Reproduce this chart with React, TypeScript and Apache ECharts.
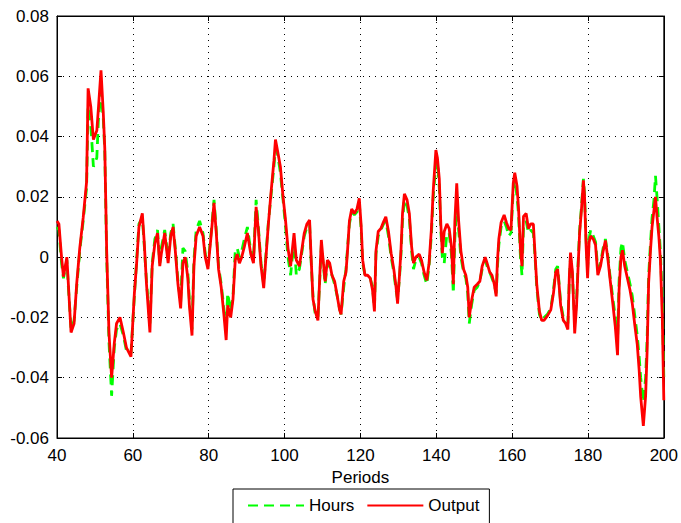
import React, { useEffect, useRef } from "react";
import * as echarts from "echarts";

const periods = [
  40.0, 40.5, 41.2, 41.7, 42.6, 43.0, 43.7, 44.5, 45.2, 46.0, 46.9, 47.8, 48.2, 48.9, 49.6, 50.5, 50.9, 51.6, 52.2, 52.6,
  53.1, 53.7, 54.4, 55.1, 55.7, 56.6, 57.5, 58.3, 59.5, 60.4, 61.0, 61.6, 62.5, 63.0, 63.6, 64.5, 65.1, 65.8, 66.5, 67.1,
  67.5, 68.4, 69.3, 70.0, 70.6, 71.2, 71.9, 72.6, 73.2, 73.8, 74.5, 74.9, 75.6, 76.1, 76.7, 77.6, 78.5, 79.1, 79.8, 80.7,
  81.4, 82.0, 82.6, 83.3, 84.0, 84.6, 85.0, 85.8, 86.4, 87.0, 87.5, 88.1, 88.7, 89.4, 90.2, 91.1, 91.8, 92.5, 93.1, 93.8,
  94.5, 95.1, 95.7, 96.4, 97.2, 97.6, 98.2, 98.9, 99.6, 100.2, 100.9, 101.6, 102.5, 103.1, 103.9, 104.5, 105.2, 105.9, 106.6, 107.1,
  107.5, 108.1, 108.8, 109.3, 109.7, 110.1, 110.7, 111.3, 111.9, 112.5, 113.2, 113.9, 114.5, 114.9, 115.6, 116.2, 116.6, 117.1, 117.7, 118.4,
  119.1, 119.7, 120.2, 120.6, 121.2, 121.9, 122.6, 123.2, 123.7, 124.1, 124.7, 125.4, 126.1, 126.7, 127.4, 128.1, 128.8, 129.4, 129.8, 130.3,
  130.7, 131.1, 131.6, 132.3, 132.9, 133.5, 134.0, 134.6, 135.5, 136.1, 136.8, 137.5, 138.1, 138.7, 139.2, 139.9, 140.3, 140.8, 141.2, 141.6,
  142.1, 142.8, 143.4, 144.0, 144.5, 144.9, 145.4, 145.9, 146.5, 147.2, 147.8, 148.3, 148.7, 149.3, 150.0, 150.8, 151.5, 152.1, 152.9, 153.4,
  154.1, 154.7, 155.3, 155.8, 156.1, 156.5, 157.1, 157.9, 158.5, 159.1, 159.7, 160.3, 160.7, 161.3, 161.7, 162.2, 162.6, 163.0, 163.7, 164.3,
  164.9, 165.6, 166.0, 166.5, 167.2, 167.8, 168.4, 169.3, 170.2, 170.9, 171.5, 172.0, 172.4, 172.8, 173.5, 174.1, 174.7, 175.1, 175.4, 175.9,
  176.5, 177.0, 177.4, 177.8, 178.3, 178.8, 179.1, 179.5, 179.9, 180.3, 180.7, 181.4, 182.0, 182.6, 183.3, 184.0, 184.6, 185.2, 185.8, 186.6,
  187.2, 187.8, 188.2, 188.7, 189.1, 189.7, 190.4, 191.1, 191.7, 192.3, 193.0, 193.5, 193.9, 194.6, 195.2, 195.6, 196.0, 196.5, 196.9, 197.4,
  197.8, 198.2, 198.7, 199.1, 199.6, 200.0,
];

const output = [
  0.012, 0.011, 0.0, -0.0065, 0.0, -0.009, -0.025, -0.022, -0.0087, 0.003, 0.013, 0.025, 0.056, 0.05, 0.039, 0.042, 0.049, 0.062, 0.048, 0.036,
  0.002, -0.025, -0.04, -0.0286, -0.022, -0.02, -0.025, -0.03, -0.033, -0.012, -0.002, 0.01, 0.0145, 0.005, -0.009, -0.025, -0.003, 0.0045, 0.008, -0.003,
  0.001, 0.008, -0.002, 0.007, 0.01, 0.002, -0.009, -0.017, -0.002, 0.0, -0.007, -0.016, -0.026, -0.003, 0.007, 0.01, 0.007, 0.0, -0.004, 0.008,
  0.018, 0.008, -0.004, -0.01, -0.019, -0.0275, -0.016, -0.02, -0.014, -0.001, 0.001, -0.002, 0.0, 0.0035, 0.008, 0.001, -0.002, 0.0167, 0.009, -0.003,
  -0.0103, 0.0, 0.0105, 0.021, 0.032, 0.039, 0.035, 0.03, 0.02, 0.013, 0.003, -0.003, 0.008, -0.001, -0.003, 0.002, 0.008, 0.011, 0.0123, -0.003,
  -0.014, -0.018, -0.021, -0.006, 0.0057, 0.0, -0.008, -0.001, -0.002, -0.006, -0.008, -0.013, -0.0175, -0.019, -0.008, -0.005, 0.002, 0.012, 0.016, 0.0145,
  0.016, 0.0195, 0.0105, -0.001, -0.006, -0.006, -0.007, -0.011, -0.018, 0.002, 0.0085, 0.0095, 0.0117, 0.0134, 0.0085, 0.0013, -0.004, -0.01, -0.0154, -0.006,
  0.0024, 0.0145, 0.021, 0.019, 0.0145, 0.0035, -0.002, 0.0, 0.001, -0.001, -0.005, -0.0077, -0.002, 0.009, 0.022, 0.0355, 0.033, 0.026, 0.011, 0.0013,
  0.0085, 0.011, 0.0095, 0.0035, -0.009, 0.0117, 0.0245, 0.012, 0.002, -0.004, -0.006, -0.01, -0.02, -0.0145, -0.01, -0.009, -0.008, -0.003, 0.0, -0.002,
  -0.005, -0.006, -0.009, -0.013, -0.002, 0.006, 0.0115, 0.014, 0.0115, 0.0095, 0.009, 0.0245, 0.028, 0.0235, 0.016, 0.0025, -0.003, 0.0135, 0.0145, 0.0095,
  0.011, 0.011, 0.002, -0.009, -0.018, -0.021, -0.021, -0.0195, -0.0175, -0.012, -0.005, -0.004, -0.0095, -0.016, -0.021, -0.022, -0.024, -0.006, 0.0015, -0.005,
  -0.0253, -0.016, -0.003, 0.008, 0.016, 0.0255, 0.02, 0.004, -0.007, 0.005, 0.007, 0.006, 0.004, -0.006, -0.003, 0.002, 0.0055, 0.0, -0.007, -0.016,
  -0.023, -0.0325, -0.011, 0.0, 0.0023, -0.003, -0.007, -0.011, -0.0155, -0.022, -0.029, -0.0375, -0.0463, -0.056, -0.046, -0.031, -0.0085, 0.0025, 0.01, 0.0155,
  0.02, 0.0135, 0.0067, -0.001, -0.02, -0.0475,
];

const hours = [
  0.01, 0.009, -0.002, -0.007, -0.001, -0.01, -0.024, -0.021, -0.01, 0.002, 0.012, 0.023, 0.05, 0.044, 0.03, 0.033, 0.045, 0.055, 0.046, 0.035,
  0.0, -0.028, -0.046, -0.03, -0.024, -0.022, -0.026, -0.031, -0.032, -0.013, -0.001, 0.011, 0.013, 0.004, -0.008, -0.022, -0.002, 0.006, 0.009, -0.002,
  0.003, 0.009, 0.0, 0.008, 0.011, 0.003, -0.008, -0.015, 0.003, 0.002, -0.005, -0.014, -0.024, -0.001, 0.009, 0.012, 0.008, 0.001, -0.003, 0.009,
  0.019, 0.009, -0.003, -0.009, -0.017, -0.024, -0.012, -0.018, -0.013, 0.002, 0.003, 0.0, 0.002, 0.006, 0.01, 0.002, -0.001, 0.019, 0.01, -0.002,
  -0.009, 0.001, 0.011, 0.02, 0.03, 0.036, 0.034, 0.028, 0.019, 0.011, 0.0, -0.006, 0.006, -0.006, -0.004, 0.001, 0.007, 0.01, 0.011, -0.004,
  -0.013, -0.019, -0.02, -0.007, 0.004, -0.001, -0.009, -0.002, -0.003, -0.006, -0.009, -0.013, -0.017, -0.019, -0.01, -0.004, 0.003, 0.011, 0.015, 0.014,
  0.015, 0.018, 0.009, -0.002, -0.006, -0.007, -0.007, -0.01, -0.017, 0.001, 0.007, 0.009, 0.011, 0.012, 0.007, 0.0, -0.005, -0.011, -0.014, -0.007,
  0.001, 0.012, 0.019, 0.017, 0.013, 0.002, -0.004, -0.001, 0.0, -0.002, -0.006, -0.009, -0.003, 0.007, 0.02, 0.031, 0.032, 0.023, 0.009, 0.0,
  -0.002, 0.008, 0.008, 0.001, -0.012, 0.006, 0.018, 0.009, 0.0, -0.005, -0.007, -0.012, -0.022, -0.016, -0.011, -0.01, -0.008, -0.004, -0.001, -0.003,
  -0.005, -0.007, -0.009, -0.012, -0.004, 0.004, 0.01, 0.012, 0.01, 0.007, 0.008, 0.022, 0.026, 0.02, 0.014, 0.0, -0.006, 0.01, 0.012, 0.008,
  0.009, 0.008, 0.001, -0.01, -0.019, -0.021, -0.02, -0.019, -0.017, -0.011, -0.004, -0.003, -0.009, -0.015, -0.02, -0.021, -0.022, -0.007, 0.0, -0.006,
  -0.022, -0.014, -0.002, 0.009, 0.017, 0.026, 0.021, 0.006, -0.004, 0.006, 0.009, 0.007, 0.005, -0.004, -0.002, 0.003, 0.006, 0.001, -0.006, -0.014,
  -0.02, -0.028, -0.008, 0.003, 0.005, -0.001, -0.005, -0.009, -0.013, -0.019, -0.026, -0.033, -0.04, -0.048, -0.04, -0.027, -0.006, 0.005, 0.013, 0.019,
  0.027, 0.02, 0.01, 0.002, -0.015, -0.04,
];

const xTicks = { min: 40, max: 200, interval: 20 };
const yTicks = { min: -0.06, max: 0.08, interval: 0.02 };

const FONT = "'Liberation Sans', Arial, sans-serif";

export default function App() {
  const ref = useRef<HTMLDivElement>(null);
  useEffect(() => {
    if (!ref.current) return;
    const chart = echarts.init(ref.current, null, { renderer: "svg" });
    const fmtY = (v: number) => {
      const r = Math.round(v * 100) / 100;
      return r === 0 ? "0" : String(r);
    };
    const dotted = { show: true, lineStyle: { color: "#000", width: 1, type: [1, 5] as any } };
    const tick = { show: true, inside: true, length: 5, lineStyle: { color: "#000" } };
    chart.setOption({
      animation: false,
      backgroundColor: "#fff",
      textStyle: { fontFamily: FONT },
      grid: { left: 57, top: 16, width: 608, height: 422, show: true, borderColor: "#000", borderWidth: 1, backgroundColor: "transparent" },
      legend: {
        left: 233,
        top: 489,
        padding: [8, 10, 20, 14],
        borderColor: "#000",
        borderWidth: 1,
        itemWidth: 56,
        itemHeight: 14,
        itemGap: 12,
        itemStyle: { opacity: 0 },
        textStyle: { fontFamily: FONT, fontSize: 17, color: "#000" },
        data: ["Hours", "Output"],
      },
      xAxis: [
        {
          type: "value",
          position: "bottom",
          min: xTicks.min,
          max: xTicks.max,
          interval: xTicks.interval,
          name: "Periods",
          nameLocation: "middle",
          nameGap: 31,
          nameTextStyle: { fontFamily: FONT, fontSize: 17, color: "#000" },
          axisLine: { show: true, onZero: false, lineStyle: { color: "#000" } },
          axisTick: tick,
          axisLabel: { fontFamily: FONT, fontSize: 17, color: "#000", margin: 9 },
          splitLine: dotted,
        },
        {
          type: "value",
          position: "top",
          min: xTicks.min,
          max: xTicks.max,
          interval: xTicks.interval,
          axisLine: { show: true, onZero: false, lineStyle: { color: "#000" } },
          axisTick: tick,
          axisLabel: { show: false },
          splitLine: { show: false },
        },
      ],
      yAxis: [
        {
          type: "value",
          position: "left",
          min: yTicks.min,
          max: yTicks.max,
          interval: yTicks.interval,
          axisLine: { show: true, onZero: false, lineStyle: { color: "#000" } },
          axisTick: tick,
          axisLabel: { fontFamily: FONT, fontSize: 17, color: "#000", margin: 8, formatter: fmtY },
          splitLine: dotted,
        },
        {
          type: "value",
          position: "right",
          min: yTicks.min,
          max: yTicks.max,
          interval: yTicks.interval,
          axisLine: { show: true, onZero: false, lineStyle: { color: "#000" } },
          axisTick: tick,
          axisLabel: { show: false },
          splitLine: { show: false },
        },
      ],
      series: [
        {
          name: "Hours",
          type: "line",
          xAxisIndex: 0,
          yAxisIndex: 0,
          symbol: "none",
          color: "#00ff00",
          lineStyle: { color: "#00ff00", width: 2.8, type: [10, 6] as any },
          data: periods.map((p, i) => [p, hours[i]]),
        },
        {
          name: "Output",
          type: "line",
          xAxisIndex: 0,
          yAxisIndex: 0,
          symbol: "none",
          color: "#ff0000",
          lineStyle: { color: "#ff0000", width: 2.8 },
          data: periods.map((p, i) => [p, output[i]]),
        },
      ],
    });
    return () => chart.dispose();
  }, []);
  return (
    <div
      ref={ref}
      style={{ position: "fixed", left: 0, top: 0, width: 681, height: 523, background: "#fff" }}
    />
  );
}
